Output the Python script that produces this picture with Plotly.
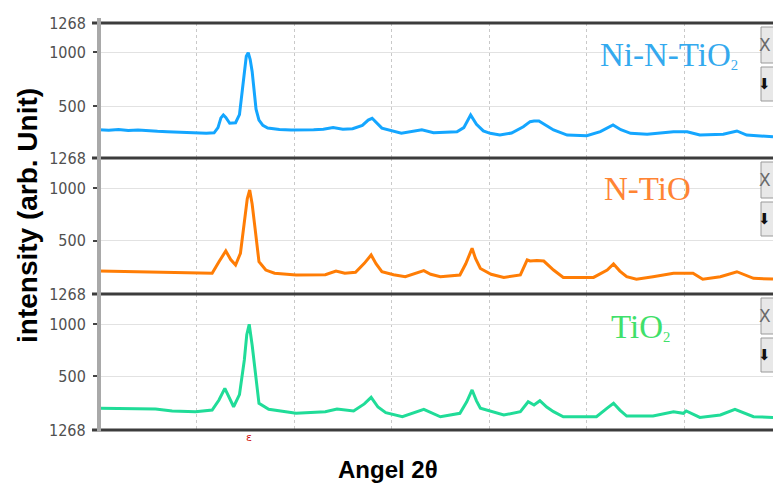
import plotly.graph_objects as go
from plotly.subplots import make_subplots

# ---------------- data (2θ in degrees, intensity in arb. units) ----------------
x_ni = [10.0, 11, 12, 13, 14, 15, 16, 17, 18, 19, 20, 21, 21.8, 22.2, 22.5, 22.75, 23.0, 23.4, 24.0,
        24.4, 24.7, 24.9, 25.1, 25.3, 25.5, 25.7, 25.9, 26.1, 26.4, 26.8, 27.3, 28.5, 29.7, 31, 32, 33,
        34, 35, 36, 37, 37.6, 38.0, 38.5, 39, 41, 42, 43.1, 44.3, 45.5, 46.7, 47.4, 48.1, 48.7, 49.4,
        50.1, 51.1, 52.3, 53.5, 54.2, 54.6, 55.1, 55.8, 56.6, 58, 60, 61.4, 62.7, 63.5, 64.5, 66.2,
        67.5, 68.9, 70.3, 71.6, 74, 75.4, 76.4, 78.4, 79.1]
y_ni = [280, 276, 282, 274, 278, 270, 266, 262, 258, 252, 250, 248, 252, 300, 390, 417, 395, 340, 345,
        420, 650, 830, 960, 994, 930, 820, 640, 470, 370, 320, 296, 282, 278, 276, 280, 284,
        300, 285, 290, 320, 370, 386, 340, 295, 247, 262, 280, 253, 258, 262, 300, 417, 330, 270,
        247, 231, 250, 308, 355, 361, 361, 320, 278, 231, 225, 262, 324, 280, 247, 238,
        250, 262, 262, 231, 238, 269, 231, 216, 215]

x_n = [10.0, 10.4, 12, 14, 16.5, 18, 19.9, 21.6, 22.3, 23.0, 23.5, 24.0, 24.5, 24.9, 25.2, 25.45, 25.7,
       26.0, 26.4, 27.1, 28, 30.2, 33.2, 34.3, 35.2, 36.3, 37.2, 37.9, 38.4, 39.0, 40.2, 41.4, 42.5,
       43.3, 44, 45, 47, 47.6, 48.25, 48.6, 49.1, 50.2, 51.5, 53.2, 53.9, 54.2, 54.9, 55.6, 56.6, 57.6,
       60.7, 62.1, 62.75, 63.4, 64.1, 65.1, 66.8, 68.9, 70.9, 71.9, 73.7, 75.4, 77.1, 79.1]
y_n = [212, 211, 208, 203, 199, 192, 189, 189, 300, 402, 320, 268, 380, 650, 900, 984, 850,
       618, 300, 220, 190, 173, 175, 211, 190, 199, 284, 364, 280, 204, 175, 156, 190,
       214, 180, 156, 173, 280, 427, 330, 235, 180, 150, 173, 316, 306, 310, 306, 220, 150,
       150, 220, 278, 210, 156, 132, 156, 189, 189, 132, 156, 204, 141, 134]

x_t = [10.0, 10.4, 13, 15.8, 17.5, 19.9, 21.6, 22.3, 22.9, 23.3, 23.8, 24.4, 24.9, 25.15, 25.4, 25.7,
       26.0, 26.4, 27.4, 30.2, 33.2, 34.4, 36.1, 37.2, 37.9, 38.6, 39.4, 41.1, 43.3, 45, 47, 47.7,
       48.25, 48.7, 49.1, 51.5, 53.2, 54.0, 54.6, 55.2, 55.9, 56.6, 57.6, 61, 62.1, 62.75, 63.4,
       64.1, 66.8, 68.9, 69.9, 70.2, 71.6, 73.7, 75.2, 77.1, 79.1]
y_t = [188, 188, 185, 181, 162, 155, 171, 268, 381, 300, 203, 320, 655, 900, 1000, 800,
       558, 236, 178, 139, 155, 181, 162, 230, 294, 200, 145, 106, 178, 106, 139, 250,
       365, 260, 188, 123, 155, 251, 220, 261, 200, 155, 106, 106, 190, 236, 170,
       113, 113, 155, 139, 162, 100, 123, 178, 106, 100]

SUB2 = "<span style='font-size:21px'><sub>2</sub></span>"
series_names = ["Ni-N-TiO" + SUB2, "N-TiO", "TiO" + SUB2]
series_x = [x_ni, x_n, x_t]
series_y = [y_ni, y_n, y_t]
line_colors = ["#14a6ff", "#ff7d05", "#20dc98"]
label_colors = ["#34a9ee", "#ff8433", "#3fe06a"]
y_tick_vals = [1000, 500]
top_tick_label = "1268"

# ---------------- figure ----------------
W, H = 773, 485
ML, MR, MT, MB = 99, 0, 23, 55
ph = H - MT - MB  # 407
bounds_px = [23, 158, 294, 430]
y_ranges = [[18.5, 1268.5], [-8.6, 1289], [-22, 1293]]


def py(px):
    return (430 - px) / ph


def px_x(px):
    return (px - ML) / (W - ML - MR)


fig = make_subplots(rows=3, cols=1, shared_xaxes=True, vertical_spacing=0)

for i in range(3):
    fig.add_trace(go.Scatter(x=series_x[i], y=series_y[i], mode="lines",
                             line=dict(color=line_colors[i], width=3),
                             showlegend=False, hoverinfo="skip"), row=i + 1, col=1)

tick_font = dict(family="Liberation Sans Narrow, DejaVu Sans Condensed, Arial Narrow, sans-serif",
                 size=16, color="#505050")

for i in range(3):
    yname = "yaxis" if i == 0 else f"yaxis{i + 1}"
    xname = "xaxis" if i == 0 else f"xaxis{i + 1}"
    dom = [py(bounds_px[i + 1]), py(bounds_px[i])]
    fig.layout[yname].update(domain=dom, range=y_ranges[i],
                             tickvals=[y_ranges[i][1]] + y_tick_vals,
                             ticktext=[top_tick_label] + [str(v) for v in y_tick_vals],
                             ticks="outside", ticklen=5, tickwidth=2, tickcolor="#444",
                             ticklabelstandoff=4,
                             tickfont=tick_font, showgrid=True, gridcolor="#e2e2e2", gridwidth=1,
                             zeroline=False, showline=False, fixedrange=True, automargin=False)
    fig.layout[xname].update(range=[10, 79.1], tickvals=[20, 30, 40, 50, 60, 70],
                             showticklabels=False, ticks="", showgrid=True, gridcolor="#c9c9c9",
                             griddash="dot", gridwidth=1, zeroline=False, showline=False,
                             automargin=False)

# bottom tick label "1268"
fig.add_annotation(xref="paper", yref="paper", x=px_x(88), y=py(430), xanchor="right",
                   yanchor="middle", text=top_tick_label, showarrow=False, font=tick_font)

# panel separator lines
for b in bounds_px:
    fig.add_shape(type="line", xref="paper", yref="paper", x0=px_x(92), x1=1.01,
                  y0=py(b), y1=py(b), line=dict(color="#3c3c3c", width=3))

# left axis line
fig.add_shape(type="line", xref="paper", yref="paper", x0=0, x1=0, y0=py(432), y1=py(18),
              line=dict(color="#a9a9a9", width=4))

# series labels
label_pos = [(669, 55), (647, 189), (640, 327)]
for i in range(3):
    fig.add_annotation(xref="paper", yref="paper", x=px_x(label_pos[i][0]), y=py(label_pos[i][1]),
                       text=series_names[i], showarrow=False, xanchor="center", yanchor="middle",
                       font=dict(family="Liberation Serif, Times New Roman, serif", size=33,
                                 color=label_colors[i]))

# right-side widget buttons
for i in range(3):
    top = bounds_px[i]
    for (a, b, t) in [(top + 4, top + 40, "X"), (top + 44, top + 78, "⬇")]:
        fig.add_shape(type="rect", xref="paper", yref="paper", x0=px_x(761), x1=px_x(780),
                      y0=py(b), y1=py(a), line=dict(color="#9a9a9a", width=1), fillcolor="#e8e8e8")
        fig.add_annotation(xref="paper", yref="paper", x=px_x(773), y=py((a + b) / 2),
                           text=t, showarrow=False, xanchor="right", yanchor="middle",
                           font=dict(family="DejaVu Sans", size=17 if t == "X" else 15,
                                     color="#6a6a6a" if t == "X" else "#111"))

# red marker on x axis
fig.add_annotation(xref="x3", yref="paper", x=25.35, y=py(437), text="ε", showarrow=False,
                   xanchor="center", yanchor="middle",
                   font=dict(family="DejaVu Sans", size=11, color="#d01010"))

# axis titles
fig.add_annotation(xref="paper", yref="paper", x=px_x(388), y=py(470), text="<b>Angel 2θ</b>",
                   showarrow=False, xanchor="center", yanchor="middle",
                   font=dict(family="Liberation Sans, Arial, sans-serif", size=24, color="#000"))
fig.add_annotation(xref="paper", yref="paper", x=px_x(27), y=py(216),
                   text="<b>intensity (arb. Unit)</b>", textangle=-90, showarrow=False,
                   xanchor="center", yanchor="middle",
                   font=dict(family="Liberation Sans, Arial, sans-serif", size=28, color="#000"))

fig.update_layout(width=W, height=H, margin=dict(l=ML, r=MR, t=MT, b=MB, autoexpand=False),
                  paper_bgcolor="white", plot_bgcolor="white")

fig.write_html("out.html", config={"displayModeBar": False},
               post_script="document.body.style.margin='0';document.body.style.padding='0';"
                           "document.body.style.overflow='hidden';")
